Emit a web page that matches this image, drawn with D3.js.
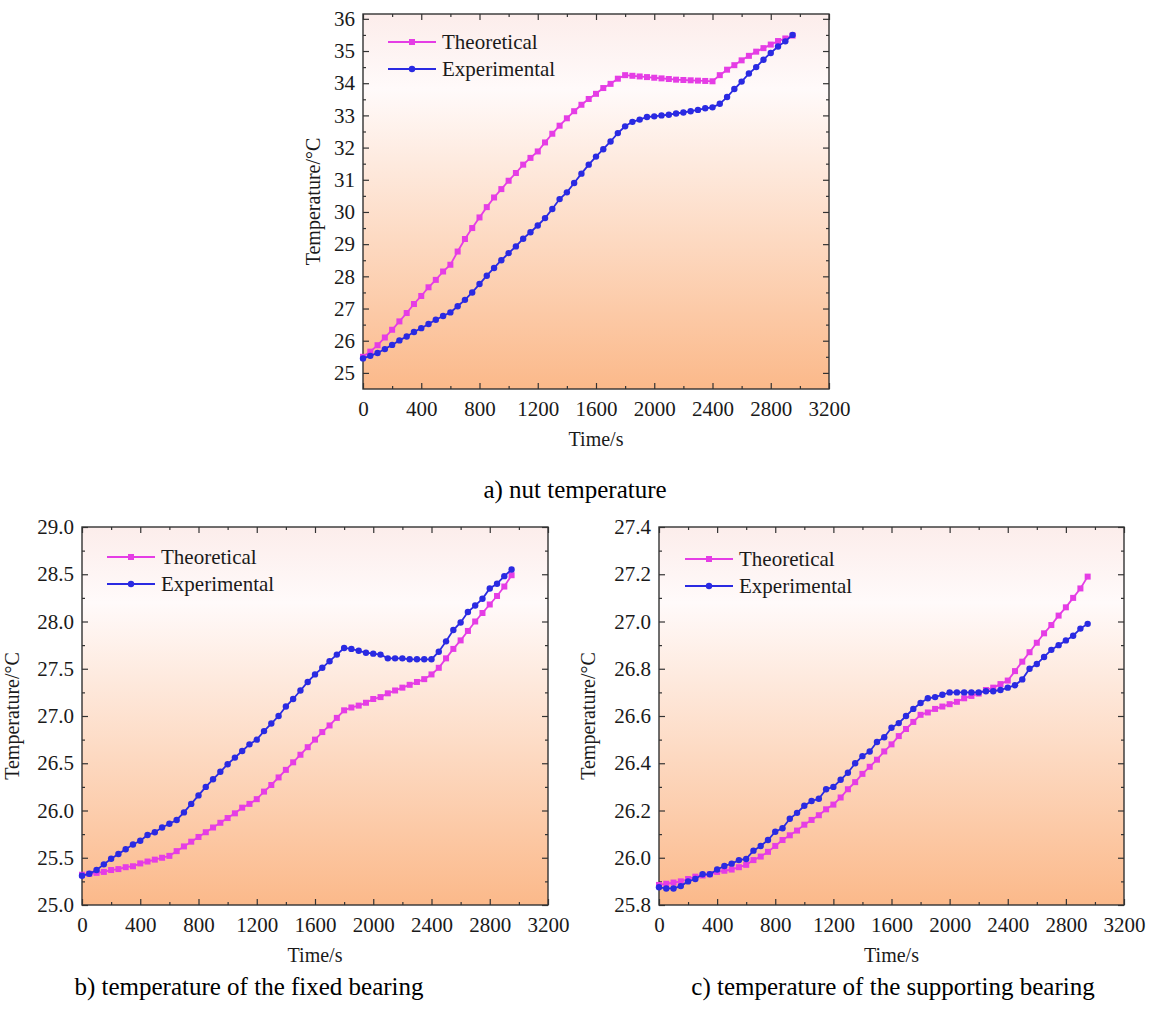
<!DOCTYPE html>
<html>
<head>
<meta charset="utf-8">
<script src="https://cdn.jsdelivr.net/npm/d3@7"></script>
<style>
  body { margin: 0; background: #fff; }
  svg text { font-family: "Liberation Serif", "Tinos", "Times New Roman", "DejaVu Serif", serif !important; }
</style>
</head>
<body>
<svg id="fig" width="1151" height="1009" font-family="Liberation Serif"></svg>
<script>
// ---- data -------------------------------------------------------------
const timeS = [0,50,100,150,200,250,300,350,400,450,500,550,600,650,700,750,800,850,900,950,
  1000,1050,1100,1150,1200,1250,1300,1350,1400,1450,1500,1550,1600,1650,1700,1750,1800,1850,1900,1950,
  2000,2050,2100,2150,2200,2250,2300,2350,2400,2450,2500,2550,2600,2650,2700,2750,2800,2850,2900,2950];

const nutTheoretical = [25.50,25.66,25.86,26.10,26.34,26.60,26.86,27.14,27.39,27.66,27.89,28.15,28.36,28.77,29.16,29.50,29.83,30.15,30.45,30.71,
  30.97,31.21,31.47,31.68,31.88,32.16,32.43,32.68,32.91,33.13,33.33,33.51,33.67,33.85,33.98,34.14,34.25,34.23,34.21,34.19,
  34.17,34.15,34.13,34.11,34.10,34.09,34.08,34.07,34.06,34.25,34.42,34.56,34.71,34.85,34.98,35.09,35.20,35.31,35.39,35.48];
const nutExperimental = [25.45,25.53,25.62,25.74,25.87,26.01,26.13,26.27,26.39,26.52,26.65,26.77,26.88,27.07,27.27,27.50,27.76,28.02,28.26,28.50,
  28.72,28.93,29.17,29.37,29.58,29.81,30.09,30.40,30.61,30.90,31.19,31.47,31.72,31.95,32.19,32.45,32.66,32.80,32.87,32.95,
  32.97,33.00,33.02,33.06,33.09,33.13,33.17,33.22,33.25,33.36,33.57,33.82,34.05,34.30,34.50,34.73,34.94,35.14,35.30,35.50];

const fixedTheoretical = [25.32,25.33,25.34,25.35,25.37,25.38,25.40,25.41,25.44,25.46,25.48,25.50,25.52,25.57,25.62,25.67,25.72,25.77,25.82,25.87,
  25.92,25.97,26.03,26.07,26.12,26.20,26.27,26.35,26.43,26.51,26.59,26.67,26.75,26.83,26.90,26.98,27.06,27.09,27.11,27.14,
  27.18,27.20,27.24,27.27,27.30,27.33,27.36,27.39,27.44,27.51,27.61,27.71,27.80,27.90,28.00,28.09,28.18,28.27,28.37,28.49];
const fixedExperimental = [25.31,25.33,25.37,25.43,25.49,25.54,25.59,25.64,25.68,25.74,25.77,25.82,25.86,25.90,25.98,26.07,26.16,26.25,26.33,26.41,
  26.49,26.56,26.63,26.70,26.75,26.84,26.92,27.00,27.10,27.18,27.27,27.36,27.44,27.51,27.58,27.65,27.72,27.71,27.69,27.67,
  27.66,27.65,27.61,27.61,27.61,27.60,27.60,27.60,27.60,27.68,27.79,27.91,27.99,28.10,28.17,28.24,28.35,28.40,28.48,28.55];

const supportTheoretical = [25.885,25.89,25.895,25.90,25.91,25.92,25.925,25.93,25.94,25.945,25.95,25.96,25.97,25.99,26.005,26.025,26.05,26.075,26.095,26.115,
  26.14,26.16,26.18,26.205,26.225,26.255,26.29,26.32,26.355,26.385,26.415,26.45,26.48,26.515,26.545,26.575,26.605,26.615,26.63,26.64,
  26.65,26.66,26.675,26.685,26.695,26.71,26.72,26.735,26.75,26.79,26.83,26.87,26.91,26.95,26.985,27.025,27.06,27.10,27.14,27.19];
const supportExperimental = [25.875,25.87,25.87,25.88,25.90,25.91,25.93,25.93,25.95,25.965,25.975,25.99,25.995,26.03,26.05,26.075,26.11,26.125,26.165,26.19,
  26.22,26.24,26.25,26.29,26.30,26.33,26.36,26.40,26.43,26.45,26.49,26.51,26.55,26.57,26.60,26.63,26.655,26.675,26.68,26.69,
  26.70,26.70,26.70,26.70,26.70,26.705,26.705,26.71,26.72,26.73,26.755,26.80,26.82,26.85,26.88,26.90,26.92,26.94,26.97,26.99];

const seriesNames = ["Theoretical", "Experimental"];
const xTicks = [0,400,800,1200,1600,2000,2400,2800,3200];
const nutYTicks = [25,26,27,28,29,30,31,32,33,34,35,36];
const fixedYTicks = [25.0,25.5,26.0,26.5,27.0,27.5,28.0,28.5,29.0];
const supportYTicks = [25.8,26.0,26.2,26.4,26.6,26.8,27.0,27.2,27.4];
const captions = ["a) nut temperature", "b) temperature of the fixed bearing", "c) temperature of the supporting bearing"];
const xTitle = "Time/s";
const yTitle = "Temperature/\u00B0C";

// ---- drawing ----------------------------------------------------------
const FONT = "Liberation Serif";
const svg = d3.select("#fig");
const colors = { Theoretical: "#e53de5", Experimental: "#2a2ae2" };
const SQ = 6;     // square marker side
const CR = 3.2;   // circle marker radius
const LW = 1.8;   // series line width

const defs = svg.append("defs");
const grad = defs.append("linearGradient").attr("id", "bgGrad")
  .attr("x1", 0).attr("y1", 0).attr("x2", 0).attr("y2", 1);
grad.append("stop").attr("offset", "0%").attr("stop-color", "#fcedeb");
grad.append("stop").attr("offset", "20%").attr("stop-color", "#fffafa");
grad.append("stop").attr("offset", "100%").attr("stop-color", "#fbb98a");

const panels = [
  { theo: nutTheoretical, exp: nutExperimental, yTicks: nutYTicks, yDomain: [24.5, 36.15], yMinor: 0.5, fmt: d3.format("d"),
    left: 363, right: 829, top: 14, bottom: 389, caption: captions[0], capX: 575, capY: 498, titleX: 320, legX: 388, legY: 42 },
  { theo: fixedTheoretical, exp: fixedExperimental, yTicks: fixedYTicks, yDomain: [25, 29], yMinor: 0.25, fmt: d3.format(".1f"),
    left: 82, right: 548, top: 527, bottom: 905, caption: captions[1], capX: 249, capY: 995, titleX: 19, legX: 107, legY: 557 },
  { theo: supportTheoretical, exp: supportExperimental, yTicks: supportYTicks, yDomain: [25.8, 27.4], yMinor: 0.1, fmt: d3.format(".1f"),
    left: 659, right: 1124, top: 527, bottom: 905, caption: captions[2], capX: 893, capY: 995, titleX: 595, legX: 685, legY: 559 }
];

panels.forEach(p => {
  const x = d3.scaleLinear().domain([0, 3200]).range([p.left, p.right]);
  const y = d3.scaleLinear().domain(p.yDomain).range([p.bottom, p.top]);
  const g = svg.append("g");

  g.append("rect").attr("x", p.left).attr("y", p.top)
    .attr("width", p.right - p.left).attr("height", p.bottom - p.top)
    .attr("fill", "url(#bgGrad)");

  const xMinor = d3.range(200, 3200, 400);
  const yMinor = d3.range(p.yTicks[0] + p.yMinor, p.yTicks[p.yTicks.length - 1], p.yMinor * 2)
    .filter(v => v > p.yDomain[0] && v < p.yDomain[1]);
  const yMinorExtra = [p.yTicks[0] - p.yMinor].filter(v => v > p.yDomain[0]);

  const styleAxis = sel => {
    sel.attr("font-family", FONT);
    sel.select(".domain").remove();
    sel.selectAll("line").attr("stroke", "#333").attr("stroke-width", 1.2);
    sel.selectAll("text").attr("font-size", 21).attr("fill", "#1a1a1a").attr("font-family", FONT);
  };

  // bottom / top
  g.append("g").attr("transform", `translate(0,${p.bottom})`)
    .call(d3.axisBottom(x).tickValues(xTicks).tickSize(-6).tickPadding(12).tickFormat(d3.format("d"))).call(styleAxis);
  g.append("g").attr("transform", `translate(0,${p.bottom})`)
    .call(d3.axisBottom(x).tickValues(xMinor).tickSize(-3).tickFormat("")).call(styleAxis);
  g.append("g").attr("transform", `translate(0,${p.top})`)
    .call(d3.axisTop(x).tickValues(xTicks).tickSize(-6).tickFormat("")).call(styleAxis);
  g.append("g").attr("transform", `translate(0,${p.top})`)
    .call(d3.axisTop(x).tickValues(xMinor).tickSize(-3).tickFormat("")).call(styleAxis);

  // left / right
  const yMinorAll = yMinor.concat(yMinorExtra);
  g.append("g").attr("transform", `translate(${p.left},0)`)
    .call(d3.axisLeft(y).tickValues(p.yTicks).tickSize(-6).tickPadding(8).tickFormat(p.fmt)).call(styleAxis);
  g.append("g").attr("transform", `translate(${p.left},0)`)
    .call(d3.axisLeft(y).tickValues(yMinorAll).tickSize(-3).tickFormat("")).call(styleAxis);
  g.append("g").attr("transform", `translate(${p.right},0)`)
    .call(d3.axisRight(y).tickValues(p.yTicks).tickSize(-6).tickFormat("")).call(styleAxis);
  g.append("g").attr("transform", `translate(${p.right},0)`)
    .call(d3.axisRight(y).tickValues(yMinorAll).tickSize(-3).tickFormat("")).call(styleAxis);

  // frame
  g.append("rect").attr("x", p.left).attr("y", p.top)
    .attr("width", p.right - p.left).attr("height", p.bottom - p.top)
    .attr("fill", "none").attr("stroke", "#333").attr("stroke-width", 1.4);

  // series
  const line = d3.line().x((d, i) => x(timeS[i])).y(d => y(d));
  [["Theoretical", p.theo], ["Experimental", p.exp]].forEach(([name, vals]) => {
    const c = colors[name];
    g.append("path").datum(vals).attr("d", line)
      .attr("fill", "none").attr("stroke", c).attr("stroke-width", LW);
    if (name === "Theoretical") {
      g.selectAll(null).data(vals).enter().append("rect")
        .attr("x", (d, i) => x(timeS[i]) - SQ / 2).attr("y", d => y(d) - SQ / 2)
        .attr("width", SQ).attr("height", SQ).attr("fill", c);
    } else {
      g.selectAll(null).data(vals).enter().append("circle")
        .attr("cx", (d, i) => x(timeS[i])).attr("cy", d => y(d))
        .attr("r", CR).attr("fill", c);
    }
  });

  // legend
  seriesNames.forEach((name, k) => {
    const ly = p.legY + k * 27;
    const c = colors[name];
    g.append("line").attr("x1", p.legX).attr("x2", p.legX + 48).attr("y1", ly).attr("y2", ly)
      .attr("stroke", c).attr("stroke-width", LW);
    if (k === 0) {
      g.append("rect").attr("x", p.legX + 24 - SQ / 2).attr("y", ly - SQ / 2).attr("width", SQ).attr("height", SQ).attr("fill", c);
    } else {
      g.append("circle").attr("cx", p.legX + 24).attr("cy", ly).attr("r", CR).attr("fill", c);
    }
    g.append("text").attr("x", p.legX + 54).attr("y", ly).attr("dy", "0.33em")
      .attr("font-family", FONT).attr("font-size", 21).attr("fill", "#1a1a1a").text(name);
  });

  // axis titles
  g.append("text").attr("x", (p.left + p.right) / 2).attr("y", p.bottom + 57)
    .attr("text-anchor", "middle").attr("font-family", FONT).attr("font-size", 20).attr("fill", "#1a1a1a").text(xTitle);
  g.append("text").attr("transform", `translate(${p.titleX},${(p.top + p.bottom) / 2}) rotate(-90)`)
    .attr("text-anchor", "middle").attr("font-family", FONT).attr("font-size", 20).attr("fill", "#1a1a1a").text(yTitle);

  // caption
  g.append("text").attr("x", p.capX).attr("y", p.capY).attr("text-anchor", "middle")
    .attr("font-family", FONT).attr("font-size", 25).attr("fill", "#000").text(p.caption);
});
</script>
</body>
</html>
